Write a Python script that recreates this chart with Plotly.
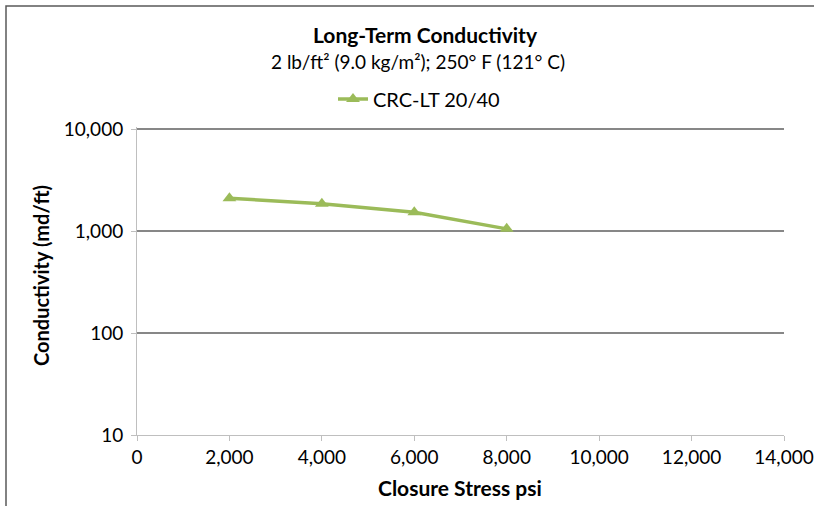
import plotly.graph_objects as go

closure_stress = [2000, 4000, 6000, 8000]
conductivity = [2100, 1850, 1530, 1050]
series_name = "CRC-LT 20/40"
x_ticks = [0, 2000, 4000, 6000, 8000, 10000, 12000, 14000]
x_tick_text = ["0", "2,000", "4,000", "6,000", "8,000", "10,000", "12,000", "14,000"]
y_ticks = [10, 100, 1000, 10000]
y_tick_text = ["10", "100", "1,000", "10,000"]

FONT = "Lato, 'Open Sans', sans-serif"
GREEN = "#9BBB59"

W, H = 814, 506
# plot area in reference pixels: x 137..784, y(10000)=129 .. y(10)=435
TOP_EXTRA = 0.02  # decades above 10,000 so the top gridline is drawn
DEC = 102.0
L = 137
R = W - 784
T = round(129 - TOP_EXTRA * DEC)
B = H - 435
pw, ph = W - L - R, H - T - B

def px(x):
    return (x - L) / pw

def py(y):
    return (H - B - y) / ph

fig = go.Figure()
fig.add_trace(go.Scatter(
    x=closure_stress, y=conductivity, name=series_name,
    mode="lines+markers",
    line=dict(color=GREEN, width=3.5),
    marker=dict(symbol="triangle-up", size=12, color=GREEN),
))

fig.update_layout(
    width=W, height=H,
    margin=dict(l=L, r=R, t=T, b=B, autoexpand=False),
    paper_bgcolor="white", plot_bgcolor="white",
    font=dict(family=FONT, color="#000000", size=19),
    showlegend=True,
    legend=dict(orientation="h", x=px(419), xanchor="center",
                y=py(99), yanchor="middle", font=dict(size=20),
                itemwidth=30),
    xaxis=dict(range=[0, 14000], tickvals=x_ticks, ticktext=x_tick_text,
               showgrid=False, showline=True, linecolor="#BFBFBF", linewidth=1,
               ticks="outside", ticklen=5, tickcolor="#BFBFBF",
               tickfont=dict(size=19), zeroline=False, automargin=False),
    yaxis=dict(type="log", range=[1, 4 + TOP_EXTRA], tickvals=y_ticks, ticktext=y_tick_text,
               showgrid=True, gridcolor="#878787", gridwidth=2,
               showline=True, linecolor="#BFBFBF", linewidth=1,
               ticks="outside", ticklen=5, tickcolor="#BFBFBF",
               ticklabelstandoff=4,
               tickfont=dict(size=19), zeroline=False, automargin=False),
    annotations=[
        dict(text="<b>Long-Term Conductivity</b>", x=px(425), y=py(34),
             xref="paper", yref="paper", showarrow=False,
             font=dict(size=21, family=FONT), xanchor="center", yanchor="middle"),
        dict(text="2 lb/ft² (9.0 kg/m²); 250° F (121° C)",
             x=px(418), y=py(61), xref="paper", yref="paper", showarrow=False,
             font=dict(size=19, family=FONT), xanchor="center", yanchor="middle"),
        dict(text="<b>Conductivity (md/ft)</b>", x=px(41), y=py(276),
             xref="paper", yref="paper", showarrow=False, textangle=-90,
             font=dict(size=20, family=FONT), xanchor="center", yanchor="middle"),
        dict(text="<b>Closure Stress psi</b>", x=px(460), y=py(487),
             xref="paper", yref="paper", showarrow=False,
             font=dict(size=21, family=FONT), xanchor="center", yanchor="middle"),
    ],
    shapes=[
        dict(type="rect", xref="paper", yref="paper",
             x0=px(6), x1=px(840), y0=py(560), y1=py(6),
             line=dict(color="#595959", width=1.5), layer="below"),
    ],
)

fig.write_html(
    "out.html",
    config={"displayModeBar": False},
    post_script="document.body.style.margin='0';document.body.style.overflow='hidden';",
)
